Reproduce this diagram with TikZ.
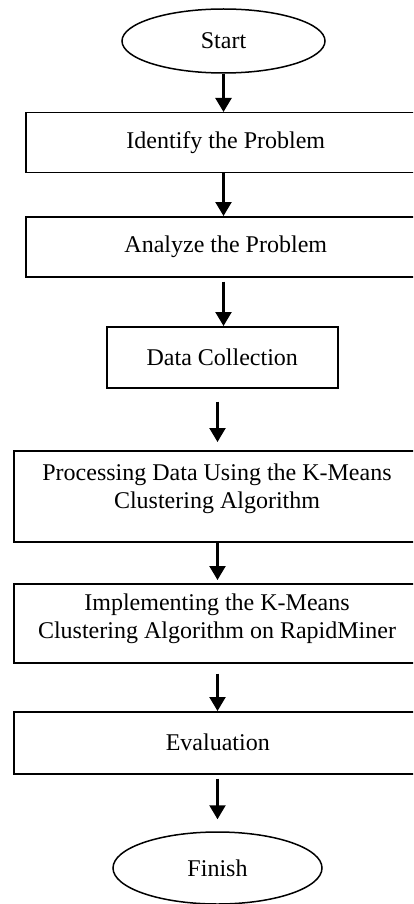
\documentclass[tikz,border=0pt]{standalone}
\usepackage{fontspec}
\setmainfont{Liberation Serif}
\usetikzlibrary{arrows.meta,shapes.geometric}
\tikzset{
  box/.style={draw, line width=1.5pt, rectangle, inner sep=0pt, anchor=north west,
    font=\fontsize{24}{28}\selectfont, align=center},
  term/.style={draw, ellipse, line width=1.5pt, inner sep=0pt,
    font=\fontsize{24}{28}\selectfont},
  txt/.style={inner sep=0pt, font=\fontsize{24}{28}\selectfont, align=center},
  arr/.style={line width=2.3pt, -{Triangle[length=14pt,width=16pt]}}
}
\begin{document}
\begin{tikzpicture}[x=1pt,y=-1pt]
\useasboundingbox (0,0) rectangle (413,904);
\clip (0,0) rectangle (413,904);
\fill[white] (0,0) rectangle (413,904);

\node[term, minimum width=203pt, minimum height=64pt] (start) at (223.5,41) {Start};
\node[box, minimum width=400pt, minimum height=60pt] (b1) at (25,112) {Identify the Problem};
\node[box, minimum width=400pt, minimum height=60pt] (b2) at (25,216) {Analyze the Problem};
\node[box, minimum width=231pt, minimum height=61pt] (dc) at (106,326) {Data Collection};
\node[box, minimum width=408pt, minimum height=91pt] (b4) at (13,450) {};
\node[txt] (b4t) at (217,489) {Processing Data Using the K-Means\\Clustering Algorithm};
\node[box, minimum width=408pt, minimum height=79pt] (b5) at (13,583) {};
\node[txt] (b5t) at (217,619) {Implementing the K-Means\\Clustering Algorithm on RapidMiner};
\node[box, minimum width=408pt, minimum height=62pt] (b6) at (13,711) {Evaluation};
\node[term, minimum width=209pt, minimum height=72pt] (fin) at (217.5,868) {Finish};

\draw[arr] (start.south) -- (b1.north -| start.south);
\draw[arr] (b1.south -| start.south) -- (b2.north -| start.south);
\draw[arr, shorten <=4pt] (b2.south -| start.south) -- (dc.north -| start.south);
\draw[arr, shorten <=13pt, shorten >=8pt] (dc.south -| fin.north) -- (b4.north -| fin.north);
\draw[arr, shorten >=3pt] (b4.south -| fin.north) -- (b5.north -| fin.north);
\draw[arr, shorten <=10pt] (b5.south -| fin.north) -- (b6.north -| fin.north);
\draw[arr, shorten <=4pt, shorten >=12pt] (b6.south -| fin.north) -- (fin.north);
\end{tikzpicture}
\end{document}
